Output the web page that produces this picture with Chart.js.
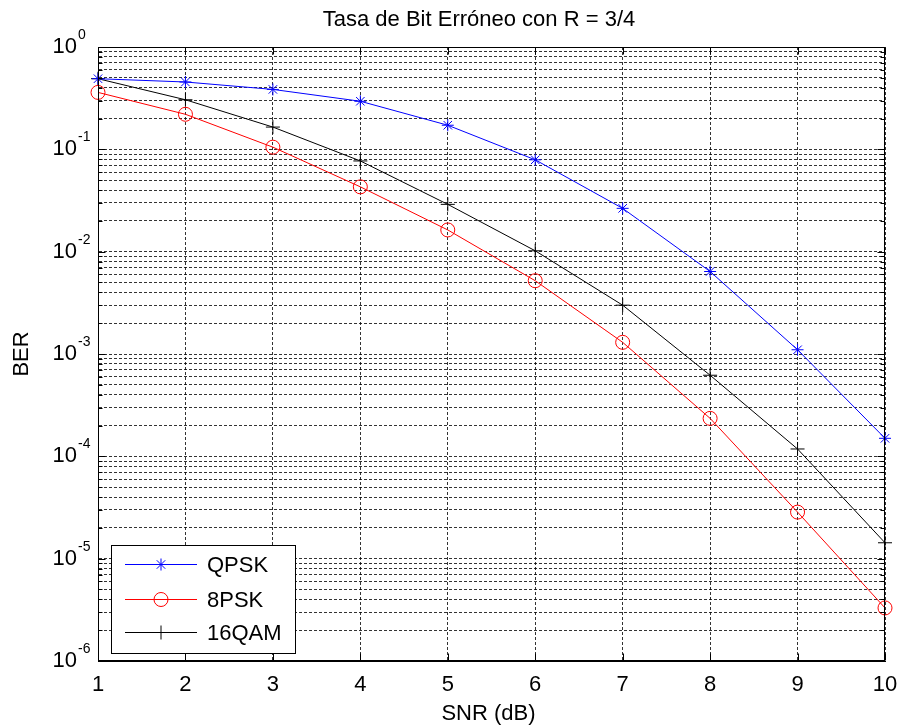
<!DOCTYPE html>
<html>
<head>
<meta charset="utf-8">
<script src="https://cdn.jsdelivr.net/npm/chart.js@4.4.1/dist/chart.umd.min.js"></script>
<style>
  html, body { margin: 0; padding: 0; background: #fff; }
  #wrap { width: 898px; height: 727px; }
</style>
</head>
<body>
<div id="wrap"><canvas id="berChart" width="898" height="727"></canvas></div>
<script>
// values
const snr = [1, 2, 3, 4, 5, 6, 7, 8, 9, 10];
const berQPSK = [0.49, 0.455, 0.385, 0.295, 0.172, 0.079, 0.0265, 0.0064, 0.0011, 0.00015];
const ber8PSK = [0.36, 0.22, 0.105, 0.043, 0.0163, 0.0052, 0.0013, 0.000235, 0.0000285, 0.0000033];
const ber16QAM = [0.49, 0.305, 0.165, 0.077, 0.029, 0.0102, 0.003, 0.00062, 0.000118, 0.0000143];
const seriesNames = ["QPSK", "8PSK", "16QAM"];

const xTicks = [1, 2, 3, 4, 5, 6, 7, 8, 9, 10];
const yExponents = [0, -1, -2, -3, -4, -5, -6];
const minorMantissas = [2, 3, 4, 5, 6, 7, 8, 9];

const titleText = "Tasa de Bit Erróneo con R = 3/4";
const xTitle = "SNR (dB)";
const yTitle = "BER";

const FONT = '"Liberation Sans", Arial, sans-serif';

const toPoints = (ys) => snr.map((x, i) => ({ x: x, y: ys[i] }));

// decade lines plus the 2..9 lines inside each decade
const yGridValues = [];
yExponents.forEach((e) => {
  yGridValues.push(Math.pow(10, e));
  if (e < 0) minorMantissas.forEach((m) => yGridValues.push(m * Math.pow(10, e)));
});

const matlabPlugin = {
  id: "matlabLook",
  afterDraw(chart) {
    const ctx = chart.ctx;
    const area = chart.chartArea;
    const xs = chart.scales.x;
    const ys = chart.scales.y;
    const L = Math.round(area.left) + 0.5;
    const R = Math.round(area.right) - 0.5;
    const T = Math.round(area.top) + 0.5;
    const B = Math.round(area.bottom) - 0.5;

    ctx.save();
    // box
    ctx.strokeStyle = "#000";
    ctx.lineWidth = 1;
    ctx.setLineDash([]);
    ctx.strokeRect(L, T, R - L, B - T);

    // inward ticks
    ctx.beginPath();
    xTicks.forEach((v) => {
      const px = Math.round(xs.getPixelForValue(v)) + 0.5;
      ctx.moveTo(px, B); ctx.lineTo(px, B - 7);
      ctx.moveTo(px, T); ctx.lineTo(px, T + 7);
    });
    yGridValues.forEach((v) => {
      const py = Math.round(ys.getPixelForValue(v)) + 0.5;
      const major = Math.abs(Math.log10(v) - Math.round(Math.log10(v))) < 1e-9;
      const len = major ? 7 : 4;
      ctx.moveTo(L, py); ctx.lineTo(L + len, py);
      ctx.moveTo(R, py); ctx.lineTo(R - len, py);
    });
    ctx.stroke();

    // y tick labels 10^n
    ctx.fillStyle = "#000";
    yExponents.forEach((e) => {
      const py = ys.getPixelForValue(Math.pow(10, e));
      ctx.font = "22px " + FONT;
      ctx.textAlign = "right";
      ctx.textBaseline = "alphabetic";
      ctx.fillText("10", 77, py + 6);
      ctx.font = "14px " + FONT;
      ctx.textAlign = "left";
      ctx.fillText(String(e), 78, py - 8);
    });

    // titles
    ctx.font = "22px " + FONT;
    ctx.textAlign = "center";
    ctx.textBaseline = "alphabetic";
    ctx.fillText(titleText, 479, 26);
    ctx.fillText(xTitle, (area.left + area.right) / 2 - 3, 720);
    ctx.save();
    ctx.translate(22, (area.top + area.bottom) / 2);
    ctx.rotate(-Math.PI / 2);
    ctx.textBaseline = "middle";
    ctx.fillText(yTitle, 0, 0);
    ctx.restore();

    // legend
    const bx = 111, by = 545, bw = 184, bh = 108;
    ctx.fillStyle = "#fff";
    ctx.fillRect(bx, by, bw, bh);
    ctx.strokeStyle = "#000";
    ctx.strokeRect(bx + 0.5, by + 0.5, bw, bh);
    const rowY = [564, 599, 632];
    chart.data.datasets.forEach((ds, i) => {
      const y = rowY[i] + 0.5;
      ctx.strokeStyle = ds.borderColor;
      ctx.lineWidth = 1;
      ctx.beginPath();
      ctx.moveTo(125, y); ctx.lineTo(197, y);
      ctx.stroke();
      drawMarker(ctx, ds.pointStyle, 161, y, ds.pointRadius, ds.borderColor);
      ctx.fillStyle = "#000";
      ctx.font = "22px " + FONT;
      ctx.textAlign = "left";
      ctx.textBaseline = "middle";
      ctx.fillText(ds.label, 207, y + 1);
    });
    ctx.restore();
  }
};

function drawMarker(ctx, style, x, y, r, color) {
  ctx.save();
  ctx.strokeStyle = color;
  ctx.lineWidth = 1;
  ctx.beginPath();
  if (style === "circle") {
    ctx.arc(x, y, r, 0, Math.PI * 2);
  } else if (style === "cross") {
    ctx.moveTo(x - r, y); ctx.lineTo(x + r, y);
    ctx.moveTo(x, y - r); ctx.lineTo(x, y + r);
  } else {
    const d = r * Math.SQRT1_2;
    ctx.moveTo(x - r, y); ctx.lineTo(x + r, y);
    ctx.moveTo(x, y - r); ctx.lineTo(x, y + r);
    ctx.moveTo(x - d, y - d); ctx.lineTo(x + d, y + d);
    ctx.moveTo(x - d, y + d); ctx.lineTo(x + d, y - d);
  }
  ctx.stroke();
  ctx.restore();
}

const gridStyle = {
  color: "rgba(0,0,0,0.8)",
  lineWidth: 1,
  drawTicks: false
};

new Chart(document.getElementById("berChart"), {
  type: "line",
  data: {
    datasets: [
      {
        label: seriesNames[0],
        data: toPoints(berQPSK),
        borderColor: "#0000ff",
        backgroundColor: "#0000ff",
        pointStyle: "star",
        pointRadius: 6,
        pointBorderWidth: 1,
        borderWidth: 1,
        clip: false
      },
      {
        label: seriesNames[1],
        data: toPoints(ber8PSK),
        borderColor: "#ff0000",
        backgroundColor: "rgba(0,0,0,0)",
        pointStyle: "circle",
        pointRadius: 7,
        pointBorderWidth: 1,
        borderWidth: 1,
        clip: false
      },
      {
        label: seriesNames[2],
        data: toPoints(ber16QAM),
        borderColor: "#000000",
        backgroundColor: "#000000",
        pointStyle: "cross",
        pointRadius: 7,
        pointBorderWidth: 1,
        borderWidth: 1,
        clip: false
      }
    ]
  },
  options: {
    responsive: false,
    animation: false,
    layout: { padding: { top: 47, right: 13, left: 0, bottom: 0 } },
    plugins: {
      legend: { display: false },
      title: { display: false },
      tooltip: { enabled: false }
    },
    elements: { line: { tension: 0 } },
    scales: {
      x: {
        type: "linear",
        min: 1,
        max: 10,
        afterBuildTicks: (scale) => {
          scale.ticks = xTicks.map((v) => ({ value: v }));
        },
        afterFit: (scale) => {
          scale.height = 66;
          scale.paddingLeft = 0;
          scale.paddingRight = 0;
        },
        ticks: {
          color: "#000",
          font: { family: FONT, size: 22 },
          padding: 11,
          maxRotation: 0,
          autoSkip: false
        },
        grid: gridStyle,
        border: { display: true, color: "#000", dash: [3, 2] }
      },
      y: {
        type: "logarithmic",
        min: 1e-6,
        max: 1,
        afterBuildTicks: (scale) => {
          scale.ticks = yGridValues.map((v) => ({ value: v }));
        },
        afterFit: (scale) => {
          scale.width = 98;
          scale.paddingTop = 0;
          scale.paddingBottom = 0;
        },
        ticks: { display: false },
        grid: gridStyle,
        border: { display: true, color: "#000", dash: [3, 2] }
      }
    }
  },
  plugins: [matlabPlugin]
});
</script>
</body>
</html>
